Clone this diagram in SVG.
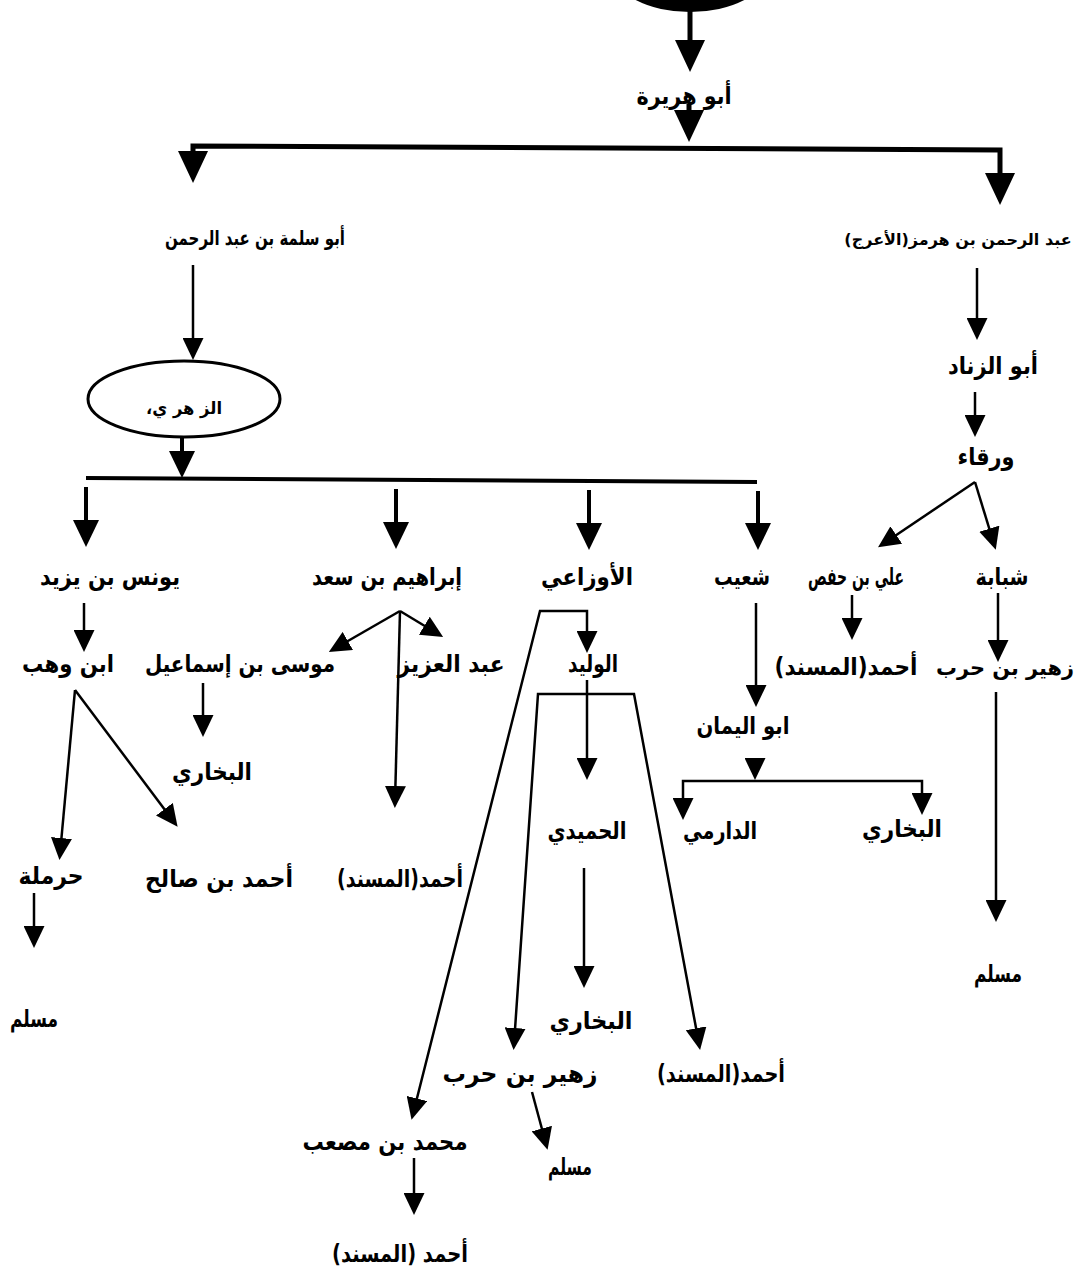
<svg xmlns="http://www.w3.org/2000/svg" width="1086" height="1279" viewBox="0 0 1086 1279">
<style>
  text { font-family: "DejaVu Sans", "Noto Sans", sans-serif; font-weight: bold; font-size: 24px; fill: #000; text-anchor: middle; direction: rtl; }
  .c { fill: none; stroke: #000; stroke-linejoin: miter; }
  .big { stroke-width: 5; }
  .mid { stroke-width: 4; }
  .thin { stroke-width: 2.5; }
  .ms { marker-end: url(#aS); }
  .mm { marker-end: url(#aM); }
  .ml { marker-end: url(#aL); }
  .ss { marker-start: url(#aS); marker-end: url(#aS); }
</style>
<defs>
  <marker id="aL" markerUnits="userSpaceOnUse" markerWidth="32" markerHeight="30" refX="22" refY="15" orient="auto-start-reverse" viewBox="0 0 32 30">
    <path d="M0,0 L32,15 L0,30 z" fill="#000"/>
  </marker>
  <marker id="aM" markerUnits="userSpaceOnUse" markerWidth="27" markerHeight="26" refX="19" refY="13" orient="auto-start-reverse" viewBox="0 0 27 26">
    <path d="M0,0 L27,13 L0,26 z" fill="#000"/>
  </marker>
  <marker id="aS" markerUnits="userSpaceOnUse" markerWidth="22" markerHeight="21" refX="16" refY="10.5" orient="auto-start-reverse" viewBox="0 0 22 21">
    <path d="M0,0 L22,10.5 L0,21 z" fill="#000"/>
  </marker>
</defs>
<rect x="0" y="0" width="1086" height="1279" fill="#fff"/>

<g id="connectors">
  <path class="c big ml" d="M690,8 V62"/>
  <path class="c big ml" d="M689,104 V132"/>
  <path class="c big" d="M193,173 V146 L1000,150 V195" style="marker-start:url(#aL);marker-end:url(#aL)"/>
  <path class="c thin ms" d="M193,265 V354"/>
  <path class="c mid mm" d="M182,436 V470"/>
  <path class="c mid" d="M86,478 L757,482"/>
  <path class="c mid mm" d="M86,487 V539"/>
  <path class="c mid mm" d="M396,489 V541"/>
  <path class="c mid mm" d="M589,490 V542"/>
  <path class="c mid mm" d="M758,491 V542"/>

  <path class="c thin ms" d="M977,268 V334"/>
  <path class="c thin ms" d="M975,392 V431"/>
  <path class="c thin ms" d="M975,482 L883,544"/>
  <path class="c thin ms" d="M975,482 L994,544"/>
  <path class="c thin ms" d="M998,593 V656"/>
  <path class="c thin ms" d="M996,692 V916"/>
  <path class="c thin ms" d="M852,595 V634"/>
  <path class="c thin ms" d="M756,603 V701"/>
  <path class="c thin ms" d="M755,758 V774"/>
  <path class="c thin ss" d="M683,814 V781 H922 V809"/>

  <path class="c thin ss" d="M413,1114 L540,611 H587 V647"/>
  <path class="c thin ms" d="M587,680 V774"/>
  <path class="c thin ss" d="M514,1044 L538,694 H634 L699,1044"/>
  <path class="c thin ms" d="M584,868 V982"/>
  <path class="c thin ms" d="M532,1092 L546,1144"/>
  <path class="c thin ms" d="M414,1158 V1209"/>

  <path class="c thin ms" d="M400,611 L334,649"/>
  <path class="c thin ms" d="M400,611 L438,634"/>
  <path class="c thin ms" d="M400,611 L395,802"/>
  <path class="c thin ms" d="M84,603 V646"/>
  <path class="c thin ms" d="M75,690 L60,854"/>
  <path class="c thin ms" d="M75,690 L174,822"/>
  <path class="c thin ms" d="M203,683 V731"/>
  <path class="c thin ms" d="M34,893 V942"/>
</g>

<g id="n-top"><ellipse cx="690" cy="-28" rx="76" ry="40" fill="#000"/></g>
<g id="n-abuhurayra"><text x="684" y="104" textLength="95" lengthAdjust="spacingAndGlyphs">أبو هريرة</text></g>
<g id="n-abusalama"><text x="255" y="245" style="font-size:20px" textLength="180" lengthAdjust="spacingAndGlyphs">أبو سلمة بن عبد الرحمن</text></g>
<g id="n-araj"><text x="958" y="245" style="font-size:16px">عبد الرحمن بن هرمز(الأعرج)</text></g>
<g id="n-zuhri"><ellipse cx="184" cy="399" rx="96" ry="38" fill="none" stroke="#000" stroke-width="3"/><text x="184" y="414" style="font-size:17px" textLength="76" lengthAdjust="spacingAndGlyphs">الز هر ي،</text></g>
<g id="n-abuzinad"><text x="993" y="374" textLength="90" lengthAdjust="spacingAndGlyphs">أبو الزناد</text></g>
<g id="n-warqa"><text x="986" y="465" textLength="57" lengthAdjust="spacingAndGlyphs">ورقاء</text></g>

<g id="n-yunus"><text x="110" y="585" textLength="140" lengthAdjust="spacingAndGlyphs">يونس بن يزيد</text></g>
<g id="n-ibrahim"><text x="387" y="585" textLength="150" lengthAdjust="spacingAndGlyphs">إبراهيم بن سعد</text></g>
<g id="n-awzai"><text x="587" y="585" textLength="92" lengthAdjust="spacingAndGlyphs">الأوزاعي</text></g>
<g id="n-shuayb"><text x="742" y="585" textLength="56" lengthAdjust="spacingAndGlyphs">شعيب</text></g>
<g id="n-ali"><text x="856" y="585" textLength="96" lengthAdjust="spacingAndGlyphs">علي بن حفص</text></g>
<g id="n-shababa"><text x="1002" y="585" textLength="53" lengthAdjust="spacingAndGlyphs">شبابة</text></g>

<g id="n-ibnwahb"><text x="68" y="672" textLength="92" lengthAdjust="spacingAndGlyphs">ابن وهب</text></g>
<g id="n-musa"><text x="240" y="672" textLength="190" lengthAdjust="spacingAndGlyphs">موسى بن إسماعيل</text></g>
<g id="n-abdalaziz"><text x="451" y="672" textLength="107" lengthAdjust="spacingAndGlyphs">عبد العزيز</text></g>
<g id="n-walid"><text x="593" y="672" textLength="50" lengthAdjust="spacingAndGlyphs">الوليد</text></g>
<g id="n-ahmad1"><text x="846" y="675" textLength="143" lengthAdjust="spacingAndGlyphs">أحمد(المسند)</text></g>
<g id="n-zuhayr1"><text x="1005" y="675" style="font-size:21px" textLength="138" lengthAdjust="spacingAndGlyphs">زهير بن حرب</text></g>
<g id="n-abuyaman"><text x="743" y="734" textLength="93" lengthAdjust="spacingAndGlyphs">ابو اليمان</text></g>

<g id="n-bukhari1"><text x="212" y="780" textLength="80" lengthAdjust="spacingAndGlyphs">البخاري</text></g>
<g id="n-humaydi"><text x="587" y="839" textLength="79" lengthAdjust="spacingAndGlyphs">الحميدي</text></g>
<g id="n-darimi"><text x="720" y="839" textLength="74" lengthAdjust="spacingAndGlyphs">الدارمي</text></g>
<g id="n-bukhari2"><text x="902" y="837" textLength="80" lengthAdjust="spacingAndGlyphs">البخاري</text></g>

<g id="n-harmala"><text x="51" y="884" textLength="65" lengthAdjust="spacingAndGlyphs">حرملة</text></g>
<g id="n-ahmadsalih"><text x="219" y="887" textLength="148" lengthAdjust="spacingAndGlyphs">أحمد بن صالح</text></g>
<g id="n-ahmad2"><text x="400" y="887" textLength="126" lengthAdjust="spacingAndGlyphs">أحمد(المسند)</text></g>
<g id="n-muslim1"><text x="998" y="982" textLength="48" lengthAdjust="spacingAndGlyphs">مسلم</text></g>
<g id="n-muslim2"><text x="34" y="1027" textLength="48" lengthAdjust="spacingAndGlyphs">مسلم</text></g>
<g id="n-bukhari3"><text x="591" y="1029" textLength="83" lengthAdjust="spacingAndGlyphs">البخاري</text></g>
<g id="n-zuhayr2"><text x="520" y="1082" textLength="155" lengthAdjust="spacingAndGlyphs">زهير بن حرب</text></g>
<g id="n-ahmad3"><text x="721" y="1082" textLength="128" lengthAdjust="spacingAndGlyphs">أحمد(المسند)</text></g>
<g id="n-musab"><text x="385" y="1150" textLength="165" lengthAdjust="spacingAndGlyphs">محمد بن مصعب</text></g>
<g id="n-muslim3"><text x="570" y="1175" textLength="44" lengthAdjust="spacingAndGlyphs">مسلم</text></g>
<g id="n-ahmad4"><text x="400" y="1262" textLength="136" lengthAdjust="spacingAndGlyphs">أحمد (المسند)</text></g>
</svg>
